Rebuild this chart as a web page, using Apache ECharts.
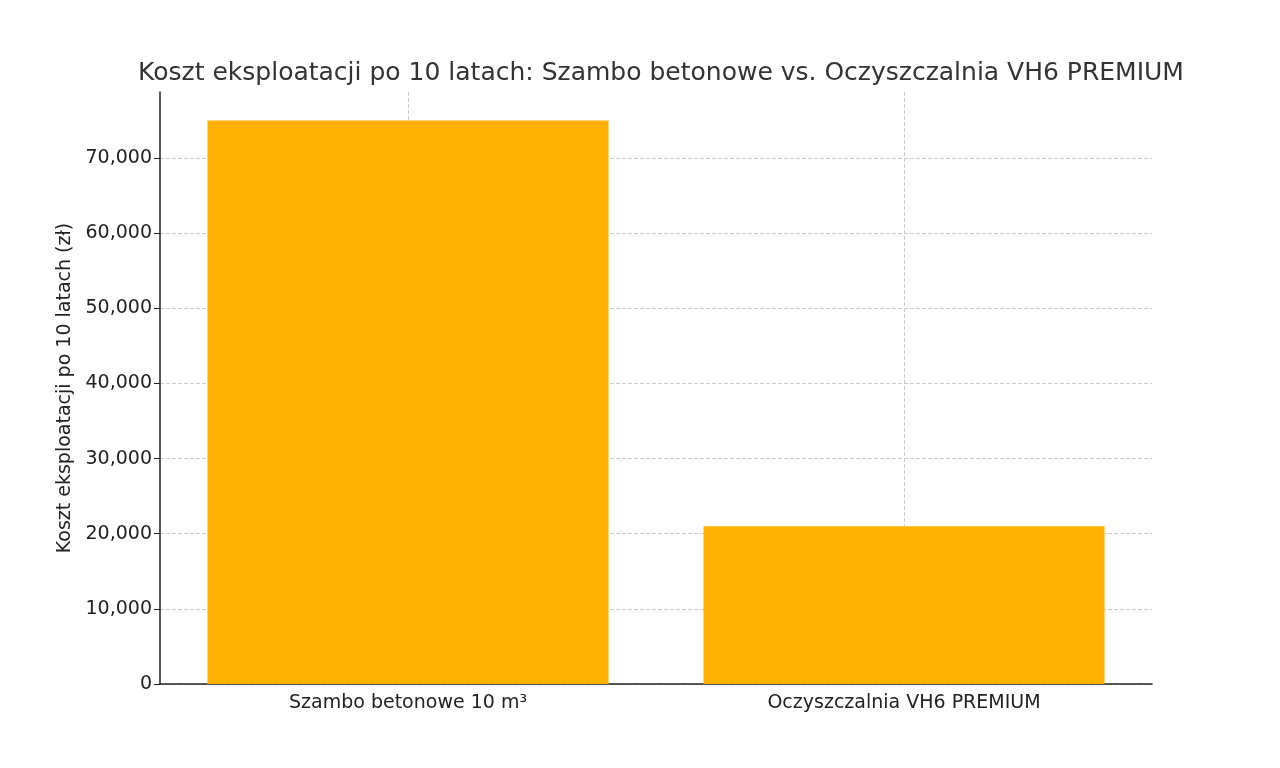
<!DOCTYPE html>
<html><head><meta charset="utf-8">
<script src="https://cdn.jsdelivr.net/npm/echarts@6/dist/echarts.min.js"></script>
<style>html,body{margin:0;background:#fff}#c{width:1280px;height:768px}</style>
</head><body><div id="c"></div>
<script>
const categories = ['Szambo betonowe 10 m³', 'Oczyszczalnia VH6 PREMIUM'];
const costs = [75000, 21000];
const chart = echarts.init(document.getElementById('c'));
const font = 'DejaVu Sans';
chart.setOption({
  animation: false,
  title: { text: 'Koszt eksploatacji po 10 latach: Szambo betonowe vs. Oczyszczalnia VH6 PREMIUM',
    left: 656, textAlign: 'center', top: 56,
    textStyle: { fontFamily: font, fontSize: 25, fontWeight: 'normal', color: '#333' } },
  grid: { left: 160, right: 128, top: 92, bottom: 84 },
  xAxis: { type: 'category', data: categories,
    axisLine: { lineStyle: { color: '#222', width: 1.5 } },
    axisTick: { alignWithLabel: true, length: 6, lineStyle: { color: '#222' } },
    axisLabel: { fontFamily: font, fontSize: 19, color: '#222', margin: 10 },
    splitLine: { show: false } },
  yAxis: { type: 'value', min: 0, max: 78800, interval: 10000,
    name: 'Koszt eksploatacji po 10 latach (zł)', nameLocation: 'middle', nameGap: 85,
    nameTextStyle: { fontFamily: font, fontSize: 19, color: '#222' },
    axisLine: { show: true, lineStyle: { color: '#222', width: 1.5 } },
    axisTick: { show: true, length: 6, lineStyle: { color: '#222' } },
    axisLabel: { fontFamily: font, fontSize: 19, color: '#222', showMaxLabel: false },
    splitLine: { showMaxLine: false, lineStyle: { type: 'dashed', color: '#ccc' } } },
  series: [{ type: 'bar', data: costs, barWidth: 401, itemStyle: { color: '#FFB000' }, z: 1,
    markLine: { symbol: 'none', silent: true, label: { show: false }, z: 0,
      lineStyle: { type: 'dashed', color: '#ccc', width: 1 },
      data: categories.map(c => ({ xAxis: c })) } }]
});
</script></body></html>
